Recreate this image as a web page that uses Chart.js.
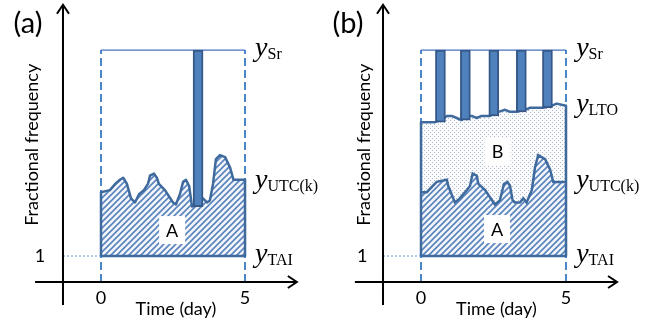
<!DOCTYPE html>
<html>
<head>
<meta charset="utf-8">
<script src="https://cdn.jsdelivr.net/npm/chart.js@4.4.0/dist/chart.umd.min.js"></script>
<style>
  body { margin: 0; background: #fff; width: 660px; height: 324px; overflow: hidden; }
  .panel { position: absolute; top: 0; width: 330px; height: 324px; }
</style>
</head>
<body>
<div class="panel" style="left:0"><canvas id="chartA" width="330" height="324"></canvas></div>
<div class="panel" style="left:330px"><canvas id="chartB" width="330" height="324"></canvas></div>
<script>
// Reference levels (fractional frequency, arbitrary units)
const yTAI = 1;
const ySr = 2;
const tStart = 0;
const tEnd = 5;
const xTickLabels = ['0', '5'];
const xTickValues = [0, 5];
const yTickLabels = ['1'];
const yTickValues = [1];

// Panel (a): UTC(k) curve
const utcA_t = [0, 0.31, 0.49, 0.66, 0.77, 0.90, 1.04, 1.18, 1.32, 1.49, 1.63, 1.70, 1.84, 1.94, 2.01, 2.22, 2.50, 2.60, 2.74, 2.85, 2.95, 3.06, 3.16, 3.33, 3.54, 3.68, 3.78, 3.89, 3.99, 4.13, 4.31, 4.48, 4.60, 5.0];
const utcA_v = [1.31, 1.32, 1.35, 1.37, 1.38, 1.35, 1.28, 1.26, 1.30, 1.32, 1.35, 1.39, 1.40, 1.38, 1.35, 1.32, 1.26, 1.25, 1.30, 1.36, 1.37, 1.34, 1.24, 1.25, 1.28, 1.26, 1.27, 1.35, 1.47, 1.49, 1.48, 1.43, 1.37, 1.37];
// Panel (a): Sr measurement bar
const barsA_t = [3.37];
const barsA_low = [1.24];

// Panel (b): UTC(k) curve
const utcB_t = [0, 0.2, 0.54, 0.89, 0.94, 1.17, 1.34, 1.52, 1.69, 1.78, 1.92, 1.98, 2.21, 2.55, 2.72, 2.86, 2.98, 3.07, 3.16, 3.24, 3.41, 3.53, 3.64, 3.82, 3.93, 4.04, 4.28, 4.45, 4.56, 5.0];
const utcB_v = [1.31, 1.31, 1.36, 1.37, 1.34, 1.26, 1.28, 1.31, 1.34, 1.40, 1.39, 1.35, 1.32, 1.25, 1.27, 1.35, 1.36, 1.34, 1.27, 1.26, 1.26, 1.28, 1.26, 1.32, 1.43, 1.49, 1.47, 1.42, 1.36, 1.36];
// Panel (b): LTO curve
const ltoB_t = [0, 0.48, 0.71, 0.89, 1.06, 1.23, 1.4, 1.58, 1.75, 1.92, 2.09, 2.38, 2.67, 2.9, 3.07, 3.3, 3.59, 3.76, 4.22, 4.51, 4.68, 5.0];
const ltoB_v = [1.65, 1.65, 1.66, 1.68, 1.68, 1.67, 1.66, 1.68, 1.68, 1.67, 1.68, 1.68, 1.70, 1.71, 1.70, 1.70, 1.71, 1.72, 1.72, 1.73, 1.74, 1.73];
// Panel (b): Sr measurement bars
const barsB_t = [0.67, 1.53, 2.51, 3.46, 4.36];
const barsB_low = [1.65, 1.66, 1.68, 1.70, 1.72];

// Right-hand level labels
const levelSubsA = ['Sr', 'UTC(k)', 'TAI'];
const levelValsA = [2, 1.36, 1];
const levelSubsB = ['Sr', 'LTO', 'UTC(k)', 'TAI'];
const levelValsB = [2, 1.73, 1.36, 1];

const outlineColor = '#3F6A9E';
const dashColor = '#4A86C8';

function pts(ts, vs) {
  return ts.map((t, i) => ({ x: t, y: vs[i] }));
}

function hatchPattern() {
  const c = document.createElement('canvas');
  const s = 6;
  c.width = s; c.height = s;
  const g = c.getContext('2d');
  g.fillStyle = '#F2F6FB';
  g.fillRect(0, 0, s, s);
  g.strokeStyle = '#5A83BE';
  g.lineWidth = 1.6;
  g.beginPath();
  g.moveTo(0, s); g.lineTo(s, 0);
  g.moveTo(-1, 1); g.lineTo(1, -1);
  g.moveTo(s - 1, s + 1); g.lineTo(s + 1, s - 1);
  g.stroke();
  return g.createPattern(c, 'repeat');
}

function dotPattern() {
  const c = document.createElement('canvas');
  c.width = 4; c.height = 4;
  const g = c.getContext('2d');
  g.fillStyle = '#FAFBFD';
  g.fillRect(0, 0, 4, 4);
  g.fillStyle = '#AEB8C8';
  g.fillRect(0, 0, 1, 1);
  g.fillRect(2, 2, 1, 1);
  return g.createPattern(c, 'repeat');
}

// Draws axes with arrows, tick labels, titles and level labels
const sketchPlugin = {
  id: 'sketch',
  afterDatasetsDraw(chart, args, o) {
    const ctx = chart.ctx;
    const X = t => chart.scales.x.getPixelForValue(t);
    const Y = v => chart.scales.y.getPixelForValue(v);
    ctx.save();

    // area labels in white boxes
    ctx.font = '18px Lato';
    ctx.textAlign = 'center';
    ctx.textBaseline = 'middle';
    o.boxes.forEach(b => {
      const px = X(b.t), py = Y(b.v);
      ctx.fillStyle = '#fff';
      ctx.fillRect(px - 13, py - 14, 26, 28);
      ctx.fillStyle = '#000';
      ctx.fillText(b.text, px, py + 1);
    });

    // axes
    ctx.strokeStyle = '#000';
    ctx.lineWidth = 2;
    const ax = X(o.yAxisT), ay = Y(0.874);
    ctx.beginPath();
    ctx.moveTo(ax, Y(0.762)); ctx.lineTo(ax, Y(2.22));
    ctx.moveTo(ax - 6, Y(2.22) + 9); ctx.lineTo(ax, Y(2.22)); ctx.lineTo(ax + 6, Y(2.22) + 9);
    const xr = X(o.xAxisEnd);
    ctx.moveTo(X(o.xAxisStart), ay); ctx.lineTo(xr, ay);
    ctx.moveTo(xr - 9, ay - 6); ctx.lineTo(xr, ay); ctx.lineTo(xr - 9, ay + 6);
    ctx.stroke();

    // tick labels
    ctx.fillStyle = '#000';
    ctx.font = '18px Lato';
    xTickLabels.forEach((lab, i) => ctx.fillText(lab, X(xTickValues[i]), Y(0.796)));
    yTickLabels.forEach((lab, i) => ctx.fillText(lab, X(o.yTickT), Y(yTickValues[i])));

    // axis titles
    ctx.fillText('Time (day)', X(2.6), Y(0.74));
    ctx.save();
    ctx.translate(X(o.yTitleT), Y(1.54));
    ctx.rotate(-Math.PI / 2);
    ctx.fillText('Fractional frequency', 0, 0);
    ctx.restore();

    // panel letter
    ctx.font = '29px Lato';
    ctx.fillText(o.letter, o.letterX, 24);

    // level labels on the right
    ctx.textAlign = 'left';
    ctx.textBaseline = 'alphabetic';
    o.subs.forEach((s, i) => {
      const px = X(5.35), py = Y(o.vals[i]);
      ctx.font = 'italic 28px "Liberation Serif"';
      ctx.fillText('y', px, py + 6);
      const w = ctx.measureText('y').width;
      ctx.font = '16px "Liberation Serif"';
      ctx.fillText(s, px + w, py + 9);
    });
    ctx.restore();
  }
};

function makePanel(id, cfg) {
  const datasets = [];
  // hatched area A (index 0)
  datasets.push({
    data: pts(cfg.utcT, cfg.utcV), borderWidth: 0, pointRadius: 0,
    backgroundColor: hatchPattern(), fill: { value: yTAI }, order: 10
  });
  if (cfg.ltoT) {
    // dotted area B (index 1), filled down to area A
    datasets.push({
      data: pts(cfg.ltoT, cfg.ltoV), borderWidth: 0, pointRadius: 0,
      backgroundColor: dotPattern(), fill: 0, order: 9
    });
    // UTC(k) curve line
    datasets.push({
      data: pts(cfg.utcT, cfg.utcV), borderColor: outlineColor, borderWidth: 2.5,
      pointRadius: 0, fill: false, order: 4
    });
  }
  // top Sr line
  datasets.push({
    data: [{ x: tStart, y: ySr }, { x: tEnd, y: ySr }], borderColor: '#4472C4',
    borderWidth: 1.2, pointRadius: 0, fill: false, order: 8
  });
  // dashed verticals at start and end
  [tStart, tEnd].forEach(t => datasets.push({
    data: [{ x: t, y: 0.874 }, { x: t, y: ySr }], borderColor: dashColor,
    borderWidth: 2, borderDash: [8, 4], pointRadius: 0, fill: false, order: 8
  }));
  // dotted guide at 1
  datasets.push({
    data: [{ x: cfg.yAxisT, y: yTAI }, { x: tStart, y: yTAI }], borderColor: '#5B9BD5',
    borderWidth: 1, borderDash: [2, 2], pointRadius: 0, fill: false, order: 8
  });
  // outline of the whole filled region
  const topT = cfg.ltoT || cfg.utcT;
  const topV = cfg.ltoV || cfg.utcV;
  datasets.push({
    data: [{ x: tStart, y: yTAI }].concat(pts(topT, topV), [{ x: tEnd, y: yTAI }, { x: tStart, y: yTAI }]),
    borderColor: outlineColor, borderWidth: 2.5, pointRadius: 0, fill: false, order: 3,
    borderJoinStyle: 'round'
  });
  // Sr bars
  datasets.push({
    type: 'bar',
    data: cfg.barsT.map((t, i) => ({ x: t, y: [cfg.barsLow[i], ySr] })),
    backgroundColor: '#4F81BD', borderColor: '#36598A', borderWidth: 2,
    borderSkipped: false, barThickness: 10, grouped: false, order: 1
  });

  return new Chart(document.getElementById(id), {
    type: 'line',
    data: { datasets },
    options: {
      responsive: false,
      animation: false,
      events: [],
      layout: { padding: 0 },
      elements: { line: { tension: 0 } },
      scales: {
        x: { type: 'linear', display: false, min: cfg.xMin, max: cfg.xMax, offset: false },
        y: { type: 'linear', display: false, min: 0.67, max: 2.243 }
      },
      plugins: {
        legend: { display: false },
        tooltip: { enabled: false },
        sketch: cfg.sketch
      }
    },
    plugins: [sketchPlugin]
  });
}

makePanel('chartA', {
  xMin: -3.507, xMax: 7.951, yAxisT: -1.32,
  utcT: utcA_t, utcV: utcA_v, barsT: barsA_t, barsLow: barsA_low,
  sketch: {
    yAxisT: -1.32, xAxisStart: -2.29, xAxisEnd: 6.8, yTickT: -2.12, yTitleT: -2.4,
    letter: '(a)', letterX: 28, subs: levelSubsA, vals: levelValsA,
    boxes: [{ text: 'A', t: 2.47, v: 1.126 }]
  }
});

makePanel('chartB', {
  xMin: -3.138, xMax: 8.241, yAxisT: -1.31,
  utcT: utcB_t, utcV: utcB_v, ltoT: ltoB_t, ltoV: ltoB_v, barsT: barsB_t, barsLow: barsB_low,
  sketch: {
    yAxisT: -1.31, xAxisStart: -2.28, xAxisEnd: 6.76, yTickT: -2.03, yTitleT: -1.97,
    letter: '(b)', letterX: 18, subs: levelSubsB, vals: levelValsB,
    boxes: [{ text: 'B', t: 2.64, v: 1.507 }, { text: 'A', t: 2.62, v: 1.131 }]
  }
});
</script>
</body>
</html>
